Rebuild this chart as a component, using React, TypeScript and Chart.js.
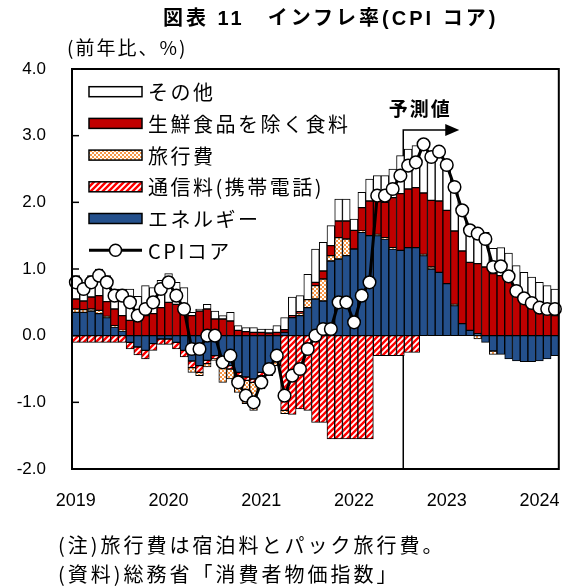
import React, { useEffect, useRef } from "react";
import { Chart, registerables } from "chart.js";

Chart.register(...registerables);

// Monthly categories, January 2019 to March 2024
const years = [2019, 2020, 2021, 2022, 2023, 2024];
const monthsInLastYear = 3;
const months: string[] = [];
years.forEach((y, k) => {
  const n = k === years.length - 1 ? monthsInLastYear : 12;
  for (let m = 1; m <= n; m++) months.push(`${y}-${String(m).padStart(2, "0")}`);
});

const yTicks = [-2, -1, 0, 1, 2, 3, 4];
const forecastStart = "2022-08";

// Contributions to the year-on-year change (percentage points)
const energy = [
  0.35, 0.35, 0.37, 0.33, 0.27, 0.13, 0.07, -0.1, -0.17, -0.22, -0.12, -0.05,
  -0.05, -0.1, -0.22, -0.38, -0.45, -0.37, -0.3, -0.38, -0.45, -0.55, -0.62, -0.65,
  -0.55, -0.42, -0.3, 0.05, 0.27, 0.3, 0.42, 0.55, 0.52, 1.12, 1.15, 1.2,
  1.3, 1.55, 1.5, 1.5, 1.45, 1.3, 1.28, 1.32, 1.32, 1.2, 1.0, 0.95,
  0.78, 0.45, 0.18, 0.08, 0.03, -0.1, -0.23, -0.28, -0.35, -0.38, -0.39, -0.39,
  -0.38, -0.35, -0.3,
];
const mobile = [
  -0.1, -0.1, -0.1, -0.1, -0.1, -0.1, -0.1, -0.1, -0.12, -0.13, -0.1, -0.08,
  -0.08, -0.1, -0.1, -0.1, -0.1, -0.05, -0.05, -0.05, -0.05, -0.05, -0.05, -0.05,
  -0.05, -0.05, -0.05, -1.12, -1.18, -1.1, -1.12, -1.3, -1.3, -1.55, -1.55, -1.55,
  -1.55, -1.55, -1.55, -0.3, -0.3, -0.3, -0.3, -0.25, -0.25, 0, 0, 0,
  0, 0, 0, 0, 0, 0, 0, 0, 0, 0, 0, 0,
  0, 0, 0,
];
const travel = [
  0.05, 0.04, 0.03, 0.05, 0.02, 0.02, 0.01, 0, 0, 0, 0, 0,
  0, 0, 0, -0.07, -0.05, -0.05, -0.02, -0.27, -0.15, -0.25, -0.35, -0.42,
  -0.2, -0.13, -0.1, -0.05, 0, 0.04, 0.12, 0.2, 0.33, 0.08, 0.32, 0.25,
  0, 0.02, 0, 0.02, 0.02, 0.02, 0, 0, 0, 0.02, 0.03, 0,
  0, 0.02, 0, 0, -0.05, 0, -0.05, 0, 0, 0, 0, 0,
  0, 0, 0,
];
const foodExFresh = [
  0.15, 0.13, 0.18, 0.22, 0.22, 0.25, 0.22, 0.23, 0.22, 0.3, 0.33, 0.42,
  0.5, 0.47, 0.4, 0.3, 0.37, 0.4, 0.25, 0.25, 0.22, 0.08, 0.06, 0.05,
  0.05, 0.04, 0.05, 0.04, 0.03, 0.02, 0, 0.05, 0.12, 0.15, 0.25, 0.27,
  0.28, 0.35, 0.52, 0.5, 0.53, 0.75, 0.85, 0.88, 0.9, 0.92, 1.0, 1.07,
  1.1, 1.1, 1.09, 1.02, 1.05, 1.03, 0.93, 0.9, 0.83, 0.7, 0.58, 0.48,
  0.38, 0.33, 0.3,
];
const others = [
  0.35, 0.28, 0.32, 0.4, 0.39, 0.3, 0.4, 0.47, 0.37, 0.45, 0.39, 0.41,
  0.43, 0.33, 0.32, 0.05, 0.03, 0.07, 0.12, 0.05, 0.13, 0.07, 0.06, 0.07,
  0.05, 0.06, 0.1, 0.18, 0.28, 0.24, 0.38, 0.5, 0.43, 0.3, 0.33, 0.33,
  0.17, 0.23, 0.33, 0.38, 0.4, 0.43, 0.57, 0.6, 0.63, 0.73, 0.65, 0.74,
  0.68, 0.66, 0.61, 0.48, 0.5, 0.52, 0.38, 0.42, 0.41, 0.35, 0.37, 0.4,
  0.42, 0.42, 0.4,
];
// Core CPI (excluding fresh food), % y/y
const cpiCore = [
  0.8, 0.7, 0.8, 0.9, 0.8, 0.6, 0.6, 0.5, 0.3, 0.4, 0.5, 0.7,
  0.8, 0.6, 0.4, -0.2, -0.2, 0.0, 0.0, -0.4, -0.3, -0.7, -0.9, -1.0,
  -0.7, -0.5, -0.3, -0.9, -0.6, -0.5, -0.2, 0.0, 0.1, 0.1, 0.5, 0.5,
  0.2, 0.6, 0.8, 2.1, 2.1, 2.2, 2.4, 2.55, 2.6, 2.87, 2.68, 2.76,
  2.56, 2.23, 1.88, 1.58, 1.53, 1.45, 1.03, 1.04, 0.89, 0.67, 0.56, 0.49,
  0.42, 0.4, 0.4,
];

const seriesNames = ["エネルギー", "通信料(携帯電話)", "旅行費", "生鮮食品を除く食料", "その他", "CPIコア"];
const legendOrder = [4, 3, 2, 1, 0, 5];

const JP = '"Noto Sans CJK JP", sans-serif';
const LATIN = '"Liberation Sans", "Noto Sans CJK JP", sans-serif';

function makeHatch(): CanvasPattern {
  const s = 6;
  const c = document.createElement("canvas");
  c.width = s;
  c.height = s;
  const g = c.getContext("2d")!;
  g.fillStyle = "#ffffff";
  g.fillRect(0, 0, s, s);
  g.strokeStyle = "#ff0000";
  g.lineWidth = 2.4;
  g.beginPath();
  g.moveTo(-1, s + 1);
  g.lineTo(s + 1, -1);
  g.moveTo(-2, 2);
  g.lineTo(2, -2);
  g.moveTo(s - 2, s + 2);
  g.lineTo(s + 2, s - 2);
  g.stroke();
  return g.createPattern(c, "repeat")!;
}

function makeChecker(): CanvasPattern {
  const c = document.createElement("canvas");
  c.width = 4;
  c.height = 4;
  const g = c.getContext("2d")!;
  g.fillStyle = "#ffffff";
  g.fillRect(0, 0, 4, 4);
  g.fillStyle = "#f79646";
  g.fillRect(0, 0, 2, 2);
  g.fillRect(2, 2, 2, 2);
  return g.createPattern(c, "repeat")!;
}

export default function App() {
  const ref = useRef<HTMLCanvasElement>(null);

  useEffect(() => {
    const canvas = ref.current!;
    const hatch = makeHatch();
    const checker = makeChecker();
    const fills: (string | CanvasPattern)[] = ["#24508c", hatch, checker, "#c00000", "#ffffff"];
    const barSeries = [energy, mobile, travel, foodExFresh, others];

    const overlay = {
      id: "overlay",
      beforeDatasetsDraw(chart: any) {
        const { ctx, chartArea, scales } = chart;
        const x = scales.x;
        const i = months.indexOf(forecastStart);
        const xf = (x.getPixelForValue(i - 1) + x.getPixelForValue(i)) / 2 - 1;
        const ya = 130;
        ctx.save();
        ctx.strokeStyle = "#000";
        ctx.lineWidth = 1.5;
        ctx.beginPath();
        ctx.moveTo(xf, chartArea.bottom);
        ctx.lineTo(xf, ya);
        ctx.lineTo(xf + 44, ya);
        ctx.stroke();
        ctx.fillStyle = "#000";
        ctx.beginPath();
        ctx.moveTo(xf + 42, ya - 6);
        ctx.lineTo(xf + 56, ya);
        ctx.lineTo(xf + 42, ya + 6);
        ctx.closePath();
        ctx.fill();
        ctx.font = `bold 19px ${JP}`;
        (ctx as any).letterSpacing = "2px";
        ctx.textAlign = "center";
        ctx.textBaseline = "middle";
        ctx.fillText("予測値", xf + 17, 109);
        ctx.restore();
      },
      afterDraw(chart: any) {
        const { ctx, chartArea, scales } = chart;
        const { left, top, right, bottom } = chartArea;
        ctx.save();
        // frame and inward ticks
        ctx.strokeStyle = "#000";
        ctx.lineWidth = 2;
        ctx.strokeRect(left, top, right - left, bottom - top);
        ctx.lineWidth = 1.5;
        yTicks.forEach((v) => {
          const y = scales.y.getPixelForValue(v);
          ctx.beginPath();
          ctx.moveTo(left, y);
          ctx.lineTo(left + 7, y);
          ctx.stroke();
        });
        // legend
        const bx = left + 17;
        const bw = 53;
        const bh = 10;
        const step = 31.7;
        const y0 = top + 22.7;
        ctx.font = `20px ${JP}`;
        (ctx as any).letterSpacing = "2.5px";
        ctx.textAlign = "left";
        ctx.textBaseline = "middle";
        legendOrder.forEach((di, row) => {
          const y = y0 + row * step;
          if (di < 5) {
            ctx.fillStyle = fills[di];
            ctx.fillRect(bx, y - bh / 2, bw, bh);
            ctx.lineWidth = 1.5;
            ctx.strokeStyle = "#000";
            ctx.strokeRect(bx, y - bh / 2, bw, bh);
          } else {
            ctx.lineWidth = 3;
            ctx.strokeStyle = "#000";
            ctx.beginPath();
            ctx.moveTo(bx, y);
            ctx.lineTo(bx + bw, y);
            ctx.stroke();
            ctx.beginPath();
            ctx.arc(bx + bw / 2, y, 6, 0, Math.PI * 2);
            ctx.fillStyle = "#fff";
            ctx.fill();
            ctx.lineWidth = 1.5;
            ctx.stroke();
          }
          ctx.fillStyle = "#000";
          ctx.fillText(seriesNames[di], bx + bw + 6, y + 1);
        });
        ctx.restore();
      },
    };

    const datasets: any[] = barSeries.map((data, k) => ({
      type: "bar",
      label: seriesNames[k],
      data,
      backgroundColor: fills[k],
      borderColor: "#000",
      borderWidth: 1,
      borderSkipped: false,
      barPercentage: 1,
      categoryPercentage: 1,
      order: 1,
    }));
    datasets.push({
      type: "line",
      label: seriesNames[5],
      data: cpiCore,
      stack: "cpi",
      borderColor: "#000",
      borderWidth: 3,
      pointRadius: 6.3,
      pointBackgroundColor: "#fff",
      pointBorderColor: "#000",
      pointBorderWidth: 1.5,
      tension: 0,
      order: 0,
    });

    const chart = new Chart(canvas, {
      type: "bar",
      data: { labels: months, datasets },
      options: {
        animation: false,
        responsive: false,
        devicePixelRatio: 1,
        layout: { padding: { left: 0, right: 5, top: 69, bottom: 77 } },
        plugins: { legend: { display: false }, tooltip: { enabled: false } },
        scales: {
          x: {
            stacked: true,
            grid: { display: false },
            border: { display: false },
            afterFit: (s: any) => {
              s.height = 40;
            },
            ticks: {
              autoSkip: false,
              maxRotation: 0,
              minRotation: 0,
              padding: 13,
              color: "#000",
              font: { family: LATIN, size: 18 },
              callback: (_v: any, i: number) => (months[i].endsWith("-01") ? months[i].slice(0, 4) : ""),
            },
          },
          y: {
            stacked: true,
            min: -2,
            max: 4,
            grid: { display: false },
            border: { display: false },
            afterFit: (s: any) => {
              s.width = 72;
            },
            ticks: {
              stepSize: 1,
              padding: 18,
              color: "#000",
              font: { family: LATIN, size: 17 },
              callback: (v: any) => Number(v).toFixed(1),
            },
          },
        },
      },
      plugins: [overlay],
    });
    return () => chart.destroy();
  }, []);

  const text: React.CSSProperties = {
    position: "absolute",
    whiteSpace: "nowrap",
    color: "#000",
    fontFamily: LATIN,
  };

  return (
    <div style={{ position: "absolute", left: 0, top: 0, width: 568, height: 586, background: "#fff" }}>
      <canvas ref={ref} width={568} height={586} style={{ position: "absolute", left: 0, top: 0 }} />
      <div style={{ ...text, left: 163, top: 7, fontSize: 20, lineHeight: "22px", fontWeight: 700, letterSpacing: 3 }}>
        図表 11　インフレ率(CPI コア)
      </div>
      <div style={{ ...text, left: 67, top: 36, fontSize: 19, lineHeight: "22px", letterSpacing: 2, fontFamily: JP }}>
        (前年比、%)
      </div>
      <div style={{ ...text, left: 58, top: 534, fontSize: 20, lineHeight: "22px", letterSpacing: 3, fontFamily: JP }}>
        (注)旅行費は宿泊料とパック旅行費。
      </div>
      <div style={{ ...text, left: 58, top: 563, fontSize: 20, lineHeight: "22px", letterSpacing: 3, fontFamily: JP }}>
        (資料)総務省「消費者物価指数」
      </div>
    </div>
  );
}
